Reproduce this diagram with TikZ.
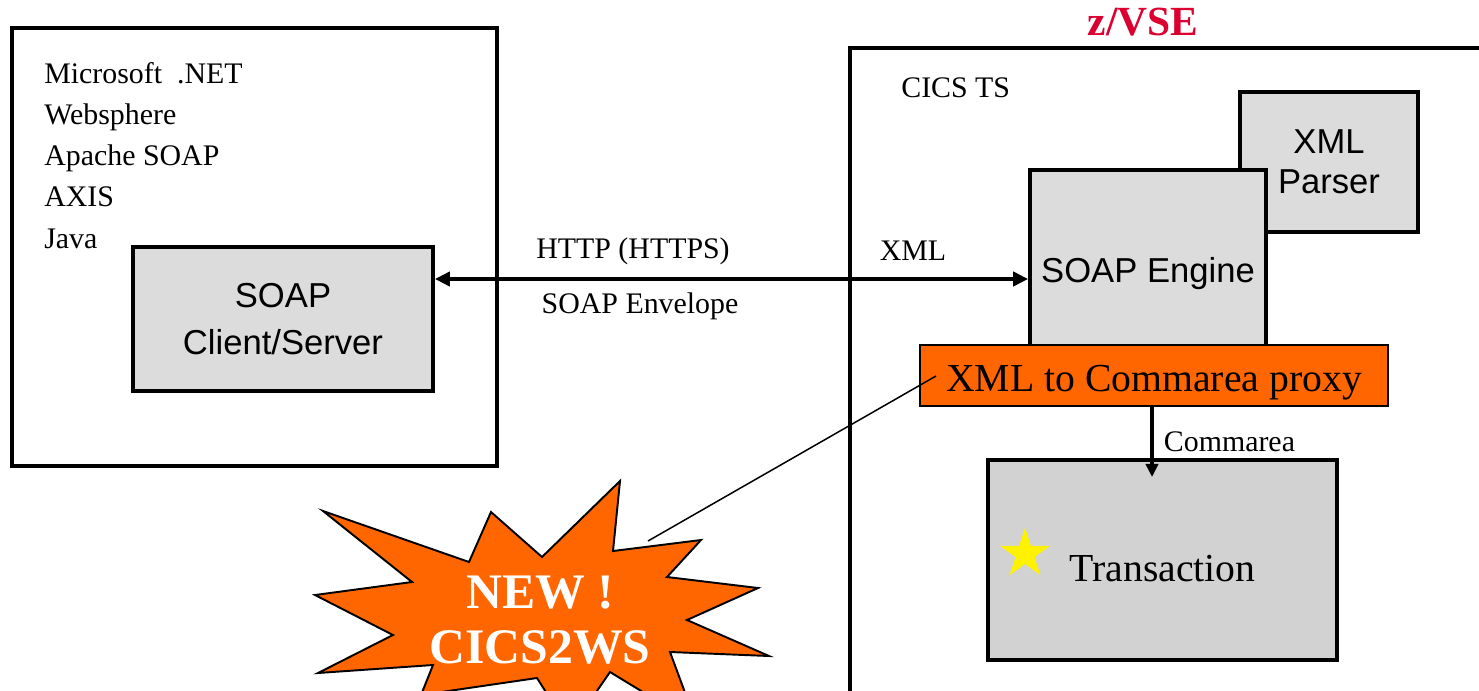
\documentclass[tikz,border=0pt]{standalone}
\usepackage{fontspec}
\setmainfont{Liberation Serif}
\setsansfont{Liberation Sans}
\usepackage{xcolor}
\usetikzlibrary{shapes.geometric,arrows.meta,positioning,calc}
\definecolor{procorange}{HTML}{FF6600}
\definecolor{boxgray}{HTML}{DCDCDC}
\definecolor{transgray}{HTML}{D2D2D2}
\definecolor{vsered}{HTML}{DC0030}
\tikzset{
    frame/.style={rectangle, draw, line width=2.2pt, inner sep=0},
    module/.style={rectangle, draw, line width=2.2pt, fill=boxgray, align=center, inner sep=0, font=\sffamily\fontsize{19.7}{27}\selectfont},
    proxybox/.style={rectangle, draw, line width=0.9pt, fill=procorange, inner sep=0, font=\fontsize{22.6}{26}\selectfont},
    txbox/.style={rectangle, draw, line width=2.2pt, fill=transgray, inner sep=0, font=\fontsize{22.6}{26}\selectfont},
    plain/.style={inner sep=0, font=\fontsize{17}{20}\selectfont},
    link/.style={line width=2.2pt, {Triangle[length=8.5pt,width=8pt]}-{Triangle[length=8.5pt,width=8pt]}},
    flow/.style={line width=2.2pt, -{Triangle[length=7.5pt,width=7pt]}},
    burst/.style={draw, fill=procorange, line width=1.1pt, line join=miter},
    leader/.style={line width=0.85pt},
    goldstar/.style={star, star points=5, star point ratio=2.618, fill=yellow, inner sep=0, minimum size=1.05cm},
}

\begin{document}
\begin{tikzpicture}[x=0.02cm, y=-0.02cm]
    \useasboundingbox (0,0) rectangle (1479,690);
    \clip (0,0) rectangle (1479,690);

    % client side
    \node[frame, minimum width=9.7cm, minimum height=8.76cm] (host) at (254.5,247) {};
    \foreach \t [count=\i] in {Microsoft~ .NET, Websphere, Apache SOAP, AXIS, Java}
        \node[plain, anchor=base west] (plat\i) at (44,{83+41.3*(\i-1)}) {\t};
    \node[module, minimum width=6cm, minimum height=2.88cm] (client) at (283,319) {SOAP\\Client/Server};

    % z/VSE side
    \node[frame, minimum width=13cm, minimum height=13.44cm] (zvse) at (1175,384) {};
    \node[inner sep=0, text=vsered, font=\bfseries\fontsize{23.6}{26}\selectfont] (zvsename) at (1143,22) {z/VSE};
    \node[plain, anchor=west] (cics) at (901,88) {CICS TS};
    \node[module, minimum width=3.56cm, minimum height=2.8cm] (parser) at (1329,162) {XML\\[-4pt]Parser};
    \node[module, minimum width=4.72cm, minimum height=4cm] (engine) at (1148,270) {\raisebox{-7pt}[0pt][0pt]{SOAP Engine}};
    \node[proxybox, minimum width=9.36cm, minimum height=1.22cm] (proxy) at (1154,375.5) {\raisebox{-8.9pt}[0pt][0pt]{XML to Commarea proxy}};
    \node[txbox, minimum width=6.98cm, minimum height=4cm] (trans) at (1162.5,560) {\raisebox{-12pt}[0pt][0pt]{Transaction}};
    \node[goldstar] (txstar) at (1025,554) {};

    % connectors
    \coordinate (wire) at (700,279);
    \draw[link] (client.east |- wire) -- (engine.west |- wire);
    \node[plain] (httplbl) at (633,251) {HTTP (HTTPS)};
    \node[plain] (envlbl) at (640,306) {SOAP Envelope};
    \node[plain] (xmllbl) at (913,251) {XML};
    \coordinate (cin) at (1152,477);
    \draw[flow] (proxy.south -| cin) -- node[plain, right, xshift=0.2cm] (calbl) {Commarea} (cin);

    % NEW! burst
    \draw[burst] (323,511) -- (469,562) -- (491,512) -- (542,557) -- (620,481) -- (613,551)
        -- (701,540) -- (667,577) -- (758,588) -- (687,620) -- (769,656) -- (670,652)
        -- (697,725) -- (610,672) -- (570,730) -- (537,678) -- (421,695) -- (433,665)
        -- (318,673) -- (393,635) -- (315,595) -- (412,582) -- cycle;
    \node[inner sep=0, align=center, text=white, font=\bfseries\fontsize{28.3}{31}\selectfont] (newtag) at (540,620) {NEW !\\CICS2WS};
    \coordinate (bursttip) at (648,541);
    \coordinate (leadend) at (936,376);
    \draw[leader] (bursttip) -- (leadend);
\end{tikzpicture}
\end{document}
